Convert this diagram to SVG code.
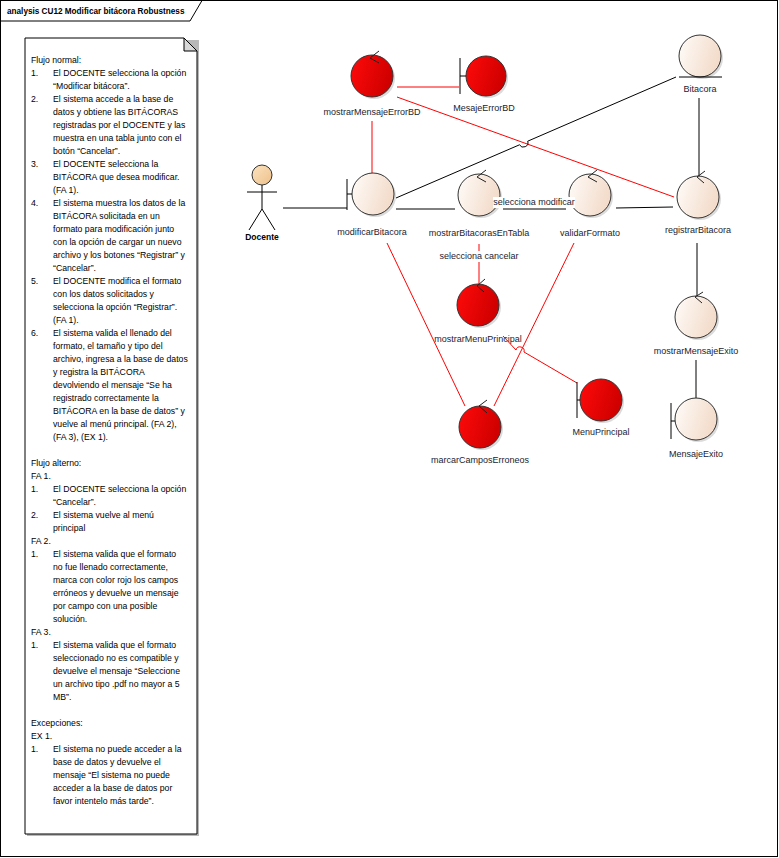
<svg xmlns="http://www.w3.org/2000/svg" width="779" height="858" viewBox="0 0 779 858">
<defs>
<style>
.lbl{font-family:"Liberation Sans",Arial,sans-serif;font-size:9px;fill:#1c1c30;text-anchor:middle}
.note{font-family:"Liberation Sans",Arial,sans-serif;font-size:8.7px;fill:#000}
.blk{stroke:#000;stroke-width:1;fill:none}
.red{stroke:#ff0000;stroke-width:1;fill:none}
.rn{fill:url(#gRed);stroke:#333;stroke-width:1}
.bn{fill:url(#gBeige);stroke:#333;stroke-width:1}
.sh{fill:#b0b0b0;opacity:.45}
.chev{stroke:#222;stroke-width:1;fill:none}
</style>
<linearGradient id="gRed" x1="0" y1="0" x2="1" y2="0.3">
<stop offset="0" stop-color="#ff0a0a"/><stop offset="1" stop-color="#d00000"/>
</linearGradient>
<linearGradient id="gBeige" x1="0" y1="0" x2="1" y2="0.3">
<stop offset="0" stop-color="#fffcf9"/><stop offset="1" stop-color="#f3dccb"/>
</linearGradient>
<linearGradient id="gHead" x1="0" y1="0" x2="1" y2="1">
<stop offset="0" stop-color="#fbe3c0"/><stop offset="1" stop-color="#eec08a"/>
</linearGradient>
</defs>
<rect x="0" y="0" width="779" height="858" fill="#fff"/>
<g id="frame">
<rect x="0.5" y="0.5" width="777" height="856" fill="none" stroke="#000"/>
<path d="M0.5,21 L190,21 L202,0.5" fill="none" stroke="#000"/>
<text x="7" y="14" style="font-family:'Liberation Sans',Arial,sans-serif;font-size:8.2px;font-weight:bold;fill:#000">analysis CU12 Modificar bitácora Robustness</text>
</g>
<g id="note">
<path d="M27,40 L199,40 L199,836 L27,836 Z" fill="#b8b8b8"/>
<path d="M25,38 L184,38 L197,51 L197,834 L25,834 Z" fill="#fff" stroke="#000"/>
<path d="M184,38 L184,51 L197,51 Z" fill="#d8d8d8" stroke="#000"/>
<text class="note">
<tspan x="31" y="63">Flujo normal:</tspan>
<tspan x="31" y="76">1.</tspan><tspan x="53" y="76">El DOCENTE selecciona la opción</tspan>
<tspan x="53" y="89">“Modificar bitácora”.</tspan>
<tspan x="31" y="102">2.</tspan><tspan x="53" y="102">El sistema accede a la base de</tspan>
<tspan x="53" y="115">datos y obtiene las BITÁCORAS</tspan>
<tspan x="53" y="128">registradas por el DOCENTE y las</tspan>
<tspan x="53" y="141">muestra en una tabla junto con el</tspan>
<tspan x="53" y="154">botón “Cancelar”.</tspan>
<tspan x="31" y="167">3.</tspan><tspan x="53" y="167">El DOCENTE selecciona la</tspan>
<tspan x="53" y="180">BITÁCORA que desea modificar.</tspan>
<tspan x="53" y="193">(FA 1).</tspan>
<tspan x="31" y="206">4.</tspan><tspan x="53" y="206">El sistema muestra los datos de la</tspan>
<tspan x="53" y="219">BITÁCORA solicitada en un</tspan>
<tspan x="53" y="232">formato para modificación junto</tspan>
<tspan x="53" y="245">con la opción de cargar un nuevo</tspan>
<tspan x="53" y="258">archivo y los botones “Registrar” y</tspan>
<tspan x="53" y="271">“Cancelar”.</tspan>
<tspan x="31" y="284">5.</tspan><tspan x="53" y="284">El DOCENTE  modifica el formato</tspan>
<tspan x="53" y="297">con los datos solicitados y</tspan>
<tspan x="53" y="310">selecciona la opción “Registrar”.</tspan>
<tspan x="53" y="323">(FA 1).</tspan>
<tspan x="31" y="336">6.</tspan><tspan x="53" y="336">El sistema valida el llenado del</tspan>
<tspan x="53" y="349">formato, el tamaño y tipo del</tspan>
<tspan x="53" y="362">archivo, ingresa a la base de datos</tspan>
<tspan x="53" y="375">y registra la BITÁCORA</tspan>
<tspan x="53" y="388">devolviendo el mensaje “Se ha</tspan>
<tspan x="53" y="401">registrado correctamente la</tspan>
<tspan x="53" y="414">BITÁCORA en la base de datos” y</tspan>
<tspan x="53" y="427">vuelve al menú principal. (FA 2),</tspan>
<tspan x="53" y="440">(FA 3), (EX 1).</tspan>
<tspan x="31" y="466">Flujo alterno:</tspan>
<tspan x="31" y="479">FA 1.</tspan>
<tspan x="31" y="492">1.</tspan><tspan x="53" y="492">El DOCENTE selecciona la opción</tspan>
<tspan x="53" y="505">“Cancelar”.</tspan>
<tspan x="31" y="518">2.</tspan><tspan x="53" y="518">El sistema vuelve al menú</tspan>
<tspan x="53" y="531">principal</tspan>
<tspan x="31" y="544">FA 2.</tspan>
<tspan x="31" y="557">1.</tspan><tspan x="53" y="557">El sistema valida que el formato</tspan>
<tspan x="53" y="570">no fue llenado correctamente,</tspan>
<tspan x="53" y="583">marca con color rojo los campos</tspan>
<tspan x="53" y="596">erróneos y devuelve un mensaje</tspan>
<tspan x="53" y="609">por campo con una posible</tspan>
<tspan x="53" y="622">solución.</tspan>
<tspan x="31" y="635">FA 3.</tspan>
<tspan x="31" y="648">1.</tspan><tspan x="53" y="648">El sistema valida que el formato</tspan>
<tspan x="53" y="661">seleccionado no es compatible y</tspan>
<tspan x="53" y="674">devuelve el mensaje “Seleccione</tspan>
<tspan x="53" y="687">un archivo tipo .pdf no mayor a 5</tspan>
<tspan x="53" y="700">MB”.</tspan>
<tspan x="31" y="726">Excepciones:</tspan>
<tspan x="31" y="739">EX 1.</tspan>
<tspan x="31" y="752">1.</tspan><tspan x="53" y="752">El sistema no puede acceder a la</tspan>
<tspan x="53" y="765">base de datos y devuelve el</tspan>
<tspan x="53" y="778">mensaje “El sistema no puede</tspan>
<tspan x="53" y="791">acceder a la base de datos por</tspan>
<tspan x="53" y="804">favor intentelo más tarde”.</tspan>
</text>
</g>
<g id="connectors">
<line class="blk" x1="283" y1="208" x2="347" y2="208"/>
<line class="red" x1="372" y1="121" x2="372" y2="173"/>
<line class="red" x1="397" y1="87" x2="459" y2="87"/>
<line class="red" x1="397" y1="97" x2="674" y2="197"/>
<path class="blk" d="M676,77 L527.7,141.2 A4.5,4.5 0 0 1 519.5,144.8 L396,198"/>
<line class="blk" x1="699" y1="98" x2="699" y2="177"/>
<line class="blk" x1="396" y1="209" x2="455" y2="209"/>
<line class="blk" x1="503" y1="209" x2="566" y2="209"/>
<line class="blk" x1="616" y1="208" x2="673" y2="207"/>
<line class="red" x1="479" y1="244" x2="479" y2="285"/>
<line class="red" x1="387" y1="243" x2="465" y2="406"/>
<line class="red" x1="574" y1="243" x2="494" y2="406"/>
<path class="red" d="M503,336 L516,350 A4,4 0 0 1 524,352 L577,383"/>
<line class="blk" x1="697" y1="243" x2="697" y2="297"/>
<line class="blk" x1="696" y1="360" x2="696" y2="399"/>
</g>
<g id="Docente">
<circle cx="262" cy="175" r="10" fill="url(#gHead)" stroke="#333"/>
<path class="blk" d="M262,185 L262,209 M247,192 L277,192 M262,209 L249,230 M262,209 L275,230"/>
<text x="262" y="240" class="lbl" style="font-weight:bold;font-size:8.5px;fill:#000">Docente</text>
</g>
<g id="mostrarMensajeErrorBD">
<circle class="sh" cx="374" cy="78" r="21"/>
<circle class="rn" cx="372" cy="76" r="21"/>
<path class="chev" d="M379,51 L370,58 L379,63"/>
<text class="lbl" x="372" y="115">mostrarMensajeErrorBD</text>
</g>
<g id="MesajeErrorBD">
<circle class="sh" cx="488" cy="78" r="20"/>
<circle class="rn" cx="486" cy="76" r="20"/>
<path class="blk" d="M460,58 L460,94 M460,76 L466,76"/>
<text class="lbl" x="484" y="111">MesajeErrorBD</text>
</g>
<g id="Bitacora">
<circle class="sh" cx="702" cy="58" r="21"/>
<circle class="bn" cx="700" cy="56" r="21"/>
<line class="blk" x1="679" y1="77" x2="722" y2="77"/>
<text class="lbl" x="700" y="92">Bitacora</text>
</g>
<g id="modificarBitacora">
<circle class="sh" cx="375" cy="196" r="21"/>
<circle class="bn" cx="373" cy="194" r="21"/>
<path class="blk" d="M347,179 L347,210 M347,194 L352,194"/>
<text class="lbl" x="372" y="235">modificarBitacora</text>
</g>
<g id="mostrarBitacorasEnTabla">
<circle class="sh" cx="481" cy="197" r="21"/>
<circle class="bn" cx="479" cy="195" r="21"/>
<path class="chev" d="M486,170 L477,177 L486,182"/>
<text class="lbl" x="479" y="236">mostrarBitacorasEnTabla</text>
</g>
<g id="validarFormato">
<circle class="sh" cx="592" cy="197" r="21"/>
<circle class="bn" cx="590" cy="195" r="21"/>
<path class="chev" d="M597,170 L588,177 L597,182"/>
<text class="lbl" x="590" y="236">validarFormato</text>
</g>
<g id="registrarBitacora">
<circle class="sh" cx="700" cy="199" r="21"/>
<circle class="bn" cx="698" cy="197" r="21"/>
<path class="chev" d="M705,171 L697,177 L704,183"/>
<text class="lbl" x="698" y="233">registrarBitacora</text>
</g>
<g id="mostrarMenuPrincipal">
<circle class="sh" cx="480" cy="307" r="21"/>
<circle class="rn" cx="478" cy="305" r="21"/>
<path class="chev" d="M485,279 L477,286 L484,292"/>
<text class="lbl" x="478" y="342">mostrarMenuPrincipal</text>
</g>
<g id="marcarCamposErroneos">
<circle class="sh" cx="482" cy="429" r="21"/>
<circle class="rn" cx="480" cy="427" r="21"/>
<path class="chev" d="M487,400 L479,406 L487,413"/>
<text class="lbl" x="480" y="463">marcarCamposErroneos</text>
</g>
<g id="MenuPrincipal">
<circle class="sh" cx="603" cy="402" r="21"/>
<circle class="rn" cx="601" cy="400" r="21"/>
<path class="blk" d="M577,382 L577,418 M577,400 L580,400"/>
<text class="lbl" x="601" y="435">MenuPrincipal</text>
</g>
<g id="mostrarMensajeExito">
<circle class="sh" cx="698" cy="319" r="21"/>
<circle class="bn" cx="696" cy="317" r="21"/>
<path class="chev" d="M703,292 L695,297 L702,303"/>
<text class="lbl" x="696" y="354">mostrarMensajeExito</text>
</g>
<g id="MensajeExito">
<circle class="sh" cx="698" cy="421" r="21"/>
<circle class="bn" cx="696" cy="419" r="21"/>
<path class="blk" d="M671,403 L671,439 M671,421 L675,421"/>
<text class="lbl" x="696" y="457">MensajeExito</text>
</g>
<g id="connector-labels">
<rect x="493" y="197" width="82" height="11" fill="#fff"/>
<text class="lbl" x="534" y="205">selecciona modificar</text>
<rect x="440" y="251" width="79" height="11" fill="#fff"/>
<text class="lbl" x="479" y="259">selecciona cancelar</text>
</g>
</svg>
